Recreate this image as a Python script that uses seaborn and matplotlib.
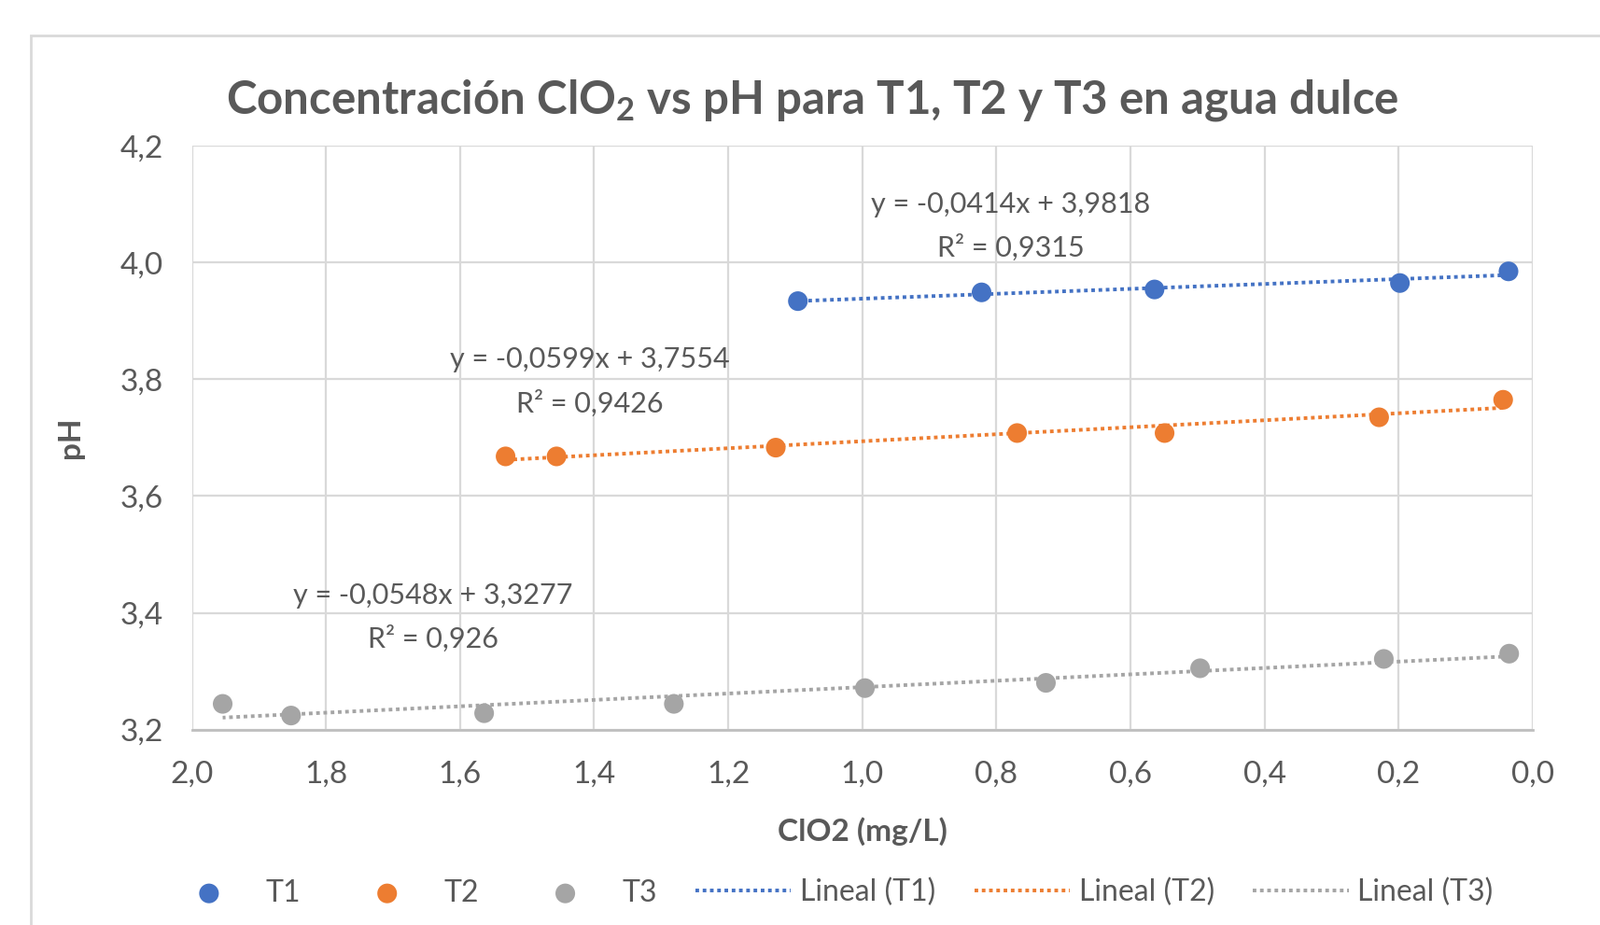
import matplotlib
matplotlib.use("Agg")
import matplotlib.pyplot as plt
from matplotlib.patches import Rectangle
from matplotlib.ticker import FuncFormatter, MultipleLocator
import numpy as np
import pandas as pd
import seaborn as sns

# values
t1_clo2 = [1.096, 0.822, 0.564, 0.198, 0.036]
t1_ph = [3.934, 3.949, 3.954, 3.965, 3.985]

t2_clo2 = [1.532, 1.456, 1.129, 0.769, 0.549, 0.229, 0.044]
t2_ph = [3.668, 3.668, 3.683, 3.708, 3.708, 3.735, 3.765]

t3_clo2 = [1.954, 1.852, 1.564, 1.281, 0.996, 0.726, 0.496, 0.222, 0.035]
t3_ph = [3.244, 3.224, 3.228, 3.244, 3.271, 3.280, 3.305, 3.321, 3.330]

series = ["T1", "T2", "T3"]
colors = ["#4472C4", "#ED7D31", "#A5A5A5"]
equations = ["y = -0,0414x + 3,9818\nR² = 0,9315",
             "y = -0,0599x + 3,7554\nR² = 0,9426",
             "y = -0,0548x + 3,3277\nR² = 0,926"]
eq_pos = [(0.779, 4.062), (1.406, 3.796), (1.640, 3.392)]

df = pd.concat([
    pd.DataFrame({"ClO2": t1_clo2, "pH": t1_ph, "serie": "T1"}),
    pd.DataFrame({"ClO2": t2_clo2, "pH": t2_ph, "serie": "T2"}),
    pd.DataFrame({"ClO2": t3_clo2, "pH": t3_ph, "serie": "T3"}),
])

sns.set_style("white")
plt.rcParams["font.family"] = ["Lato", "DejaVu Sans"]
plt.rcParams["mathtext.fontset"] = "custom"
plt.rcParams["mathtext.bf"] = "Lato:bold"
grey_txt = "#595959"

fig = plt.figure(figsize=(17.14, 9.91), dpi=100)
ax = fig.add_axes([0.1199, 0.2113, 0.838, 0.631])

# outer chart border
fig.patches.append(Rectangle((33 / 1714, -0.1), 1.2, 1 - 38 / 991 + 0.1,
                             transform=fig.transFigure, fill=False,
                             edgecolor="#d9d9d9", linewidth=2))

for s, c in zip(series, colors):
    sub = df[df["serie"] == s]
    sns.scatterplot(data=sub, x="ClO2", y="pH", color=c, s=230,
                    edgecolor="none", label=s, ax=ax, zorder=3)
for s, c in zip(series, colors):
    sub = df[df["serie"] == s]
    sns.regplot(data=sub, x="ClO2", y="pH", scatter=False, ci=None,
                color=c, label="Lineal (" + s + ")", ax=ax,
                line_kws={"linestyle": (0, (1, 1)), "linewidth": 2.8, "zorder": 2})

for (x, y), txt in zip(eq_pos, equations):
    ax.text(x, y, txt, ha="center", va="center", fontsize=22,
            color=grey_txt, linespacing=1.75)

ax.set_xlim(2.0, 0.0)
ax.set_ylim(3.2, 4.2)
ax.xaxis.set_major_locator(MultipleLocator(0.2))
ax.yaxis.set_major_locator(MultipleLocator(0.2))
fmt = FuncFormatter(lambda v, p: f"{v:.1f}".replace(".", ","))
ax.xaxis.set_major_formatter(fmt)
ax.yaxis.set_major_formatter(fmt)
ax.tick_params(length=0, labelsize=24, labelcolor=grey_txt)
ax.tick_params(axis="x", pad=24)
ax.tick_params(axis="y", pad=22)
ax.grid(True, color="#d9d9d9", linewidth=1.6)
ax.set_axisbelow(True)
for side in ["top", "right", "left"]:
    ax.spines[side].set_visible(False)
ax.spines["bottom"].set_color("#bfbfbf")
ax.spines["bottom"].set_linewidth(2)

ax.set_xlabel("ClO2 (mg/L)", fontsize=24, fontweight="bold", color=grey_txt, labelpad=22)
ax.set_ylabel("pH", fontsize=24, fontweight="bold", color=grey_txt, labelpad=28)

fig.text(0.508, 0.892, "Concentración ClO$\\mathbf{_2}$ vs pH para T1, T2 y T3 en agua dulce",
         ha="center", va="center", fontsize=35.5, fontweight="bold", color=grey_txt)

handles, labels = ax.get_legend_handles_labels()
ax.legend(handles, labels, ncol=6, loc="center", bbox_to_anchor=(0.517, 0.035),
          bbox_transform=fig.transFigure, frameon=False, fontsize=23,
          labelcolor=grey_txt, columnspacing=1.3, handlelength=3.2,
          handletextpad=0.3, markerscale=1.0)

fig.savefig("out.png", dpi=100)
